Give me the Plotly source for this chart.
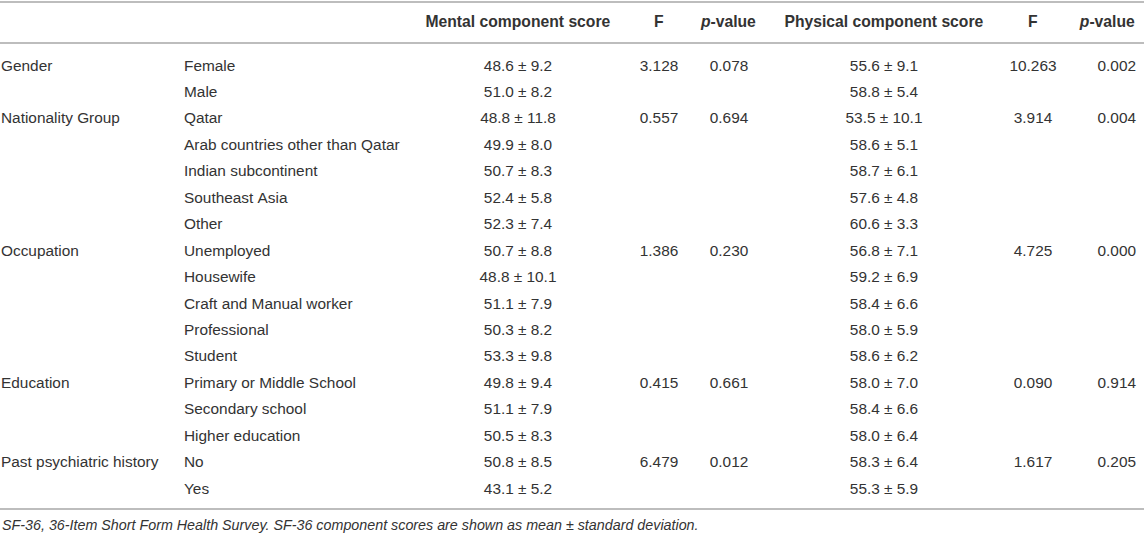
import plotly.graph_objects as go

# table content
variables = ["Gender", "", "Nationality Group", "", "", "", "",
             "Occupation", "", "", "", "", "Education", "", "",
             "Past psychiatric history", ""]
groups = ["Female", "Male", "Qatar", "Arab countries other than Qatar",
          "Indian subcontinent", "Southeast Asia", "Other", "Unemployed",
          "Housewife", "Craft and Manual worker", "Professional", "Student",
          "Primary or Middle School", "Secondary school", "Higher education",
          "No", "Yes"]
mental_score = ["48.6 ± 9.2", "51.0 ± 8.2", "48.8 ± 11.8", "49.9 ± 8.0",
                "50.7 ± 8.3", "52.4 ± 5.8", "52.3 ± 7.4", "50.7 ± 8.8",
                "48.8 ± 10.1", "51.1 ± 7.9", "50.3 ± 8.2", "53.3 ± 9.8",
                "49.8 ± 9.4", "51.1 ± 7.9", "50.5 ± 8.3", "50.8 ± 8.5",
                "43.1 ± 5.2"]
mental_f = ["3.128", "", "0.557", "", "", "", "", "1.386", "", "", "", "",
            "0.415", "", "", "6.479", ""]
mental_p = ["0.078", "", "0.694", "", "", "", "", "0.230", "", "", "", "",
            "0.661", "", "", "0.012", ""]
physical_score = ["55.6 ± 9.1", "58.8 ± 5.4", "53.5 ± 10.1", "58.6 ± 5.1",
                  "58.7 ± 6.1", "57.6 ± 4.8", "60.6 ± 3.3", "56.8 ± 7.1",
                  "59.2 ± 6.9", "58.4 ± 6.6", "58.0 ± 5.9", "58.6 ± 6.2",
                  "58.0 ± 7.0", "58.4 ± 6.6", "58.0 ± 6.4", "58.3 ± 6.4",
                  "55.3 ± 5.9"]
physical_f = ["10.263", "", "3.914", "", "", "", "", "4.725", "", "", "", "",
              "0.090", "", "", "1.617", ""]
physical_p = ["0.002", "", "0.004", "", "", "", "", "0.000", "", "", "", "",
              "0.914", "", "", "0.205", ""]
headers = ["", "", "<b>Mental component score</b>", "<b>F</b>",
           "<b><i>p</i>-value</b>", "<b>Physical component score</b>",
           "<b>F</b>", "<b><i>p</i>-value</b>"]
footnote = ("SF-36, 36-Item Short Form Health Survey. "
            "SF-36 component scores are shown as mean ± standard deviation.")

# the figure is drawn 7px wider and pulled left by 7px so the first
# column's text (plotly pads cells by 8px) lines up with the page edge
SHIFT = 7
W, H = 1144 + SHIFT, 537
text_color = "#333333"
rule_color = "#bdbdbd"
font_family = "Liberation Sans, Arial, Helvetica, sans-serif"
font_size = 15.4

col_widths = [176 + SHIFT, 236, 212, 70, 70, 240, 58, 82]
col_align = ["left", "left", "center", "center", "center", "center",
             "center", "right"]
table_top = 5


def nowrap(col):
    # plotly tables auto-wrap on plain spaces; keep each cell on one line
    return [s.replace(" ", "\u00a0") for s in col]


columns = [variables, groups, mental_score, mental_f, mental_p,
           physical_score, physical_f, physical_p]

fig = go.Figure(go.Table(
    columnwidth=col_widths,
    domain=dict(x=[0, 1], y=[0, 1 - table_top / H]),
    header=dict(
        values=nowrap(headers),
        align=col_align,
        height=46,
        fill_color="rgba(0,0,0,0)",
        line=dict(width=0, color="rgba(0,0,0,0)"),
        font=dict(family=font_family, size=15.7, color=text_color),
    ),
    cells=dict(
        values=[nowrap(c) for c in columns],
        align=col_align,
        height=26.44,
        fill_color="rgba(0,0,0,0)",
        line=dict(width=0, color="rgba(0,0,0,0)"),
        font=dict(family=font_family, size=font_size, color=text_color),
    ),
))

# horizontal rules (pixel rows of the reference)
rules = [2, 43, 509]
for yp in rules:
    fig.add_shape(type="line", xref="paper", yref="paper",
                  x0=SHIFT / W, x1=1, y0=1 - yp / H, y1=1 - yp / H,
                  line=dict(color=rule_color, width=2))

fig.add_annotation(text="<i>" + footnote + "</i>", xref="paper", yref="paper",
                   x=SHIFT / W, y=1 - 525 / H, xanchor="left",
                   yanchor="middle", showarrow=False,
                   font=dict(family=font_family, size=14.3, color=text_color))

fig.update_layout(
    width=W, height=H,
    margin=dict(l=0, r=0, t=0, b=0),
    paper_bgcolor="white",
    plot_bgcolor="white",
)

# drop the browser's default body margin so the figure fills the window
fig.write_html(
    "out.html", config={"displayModeBar": False},
    post_script=("document.body.style.margin='0px';"
                 "document.body.style.marginLeft='-%dpx';" % SHIFT),
)
